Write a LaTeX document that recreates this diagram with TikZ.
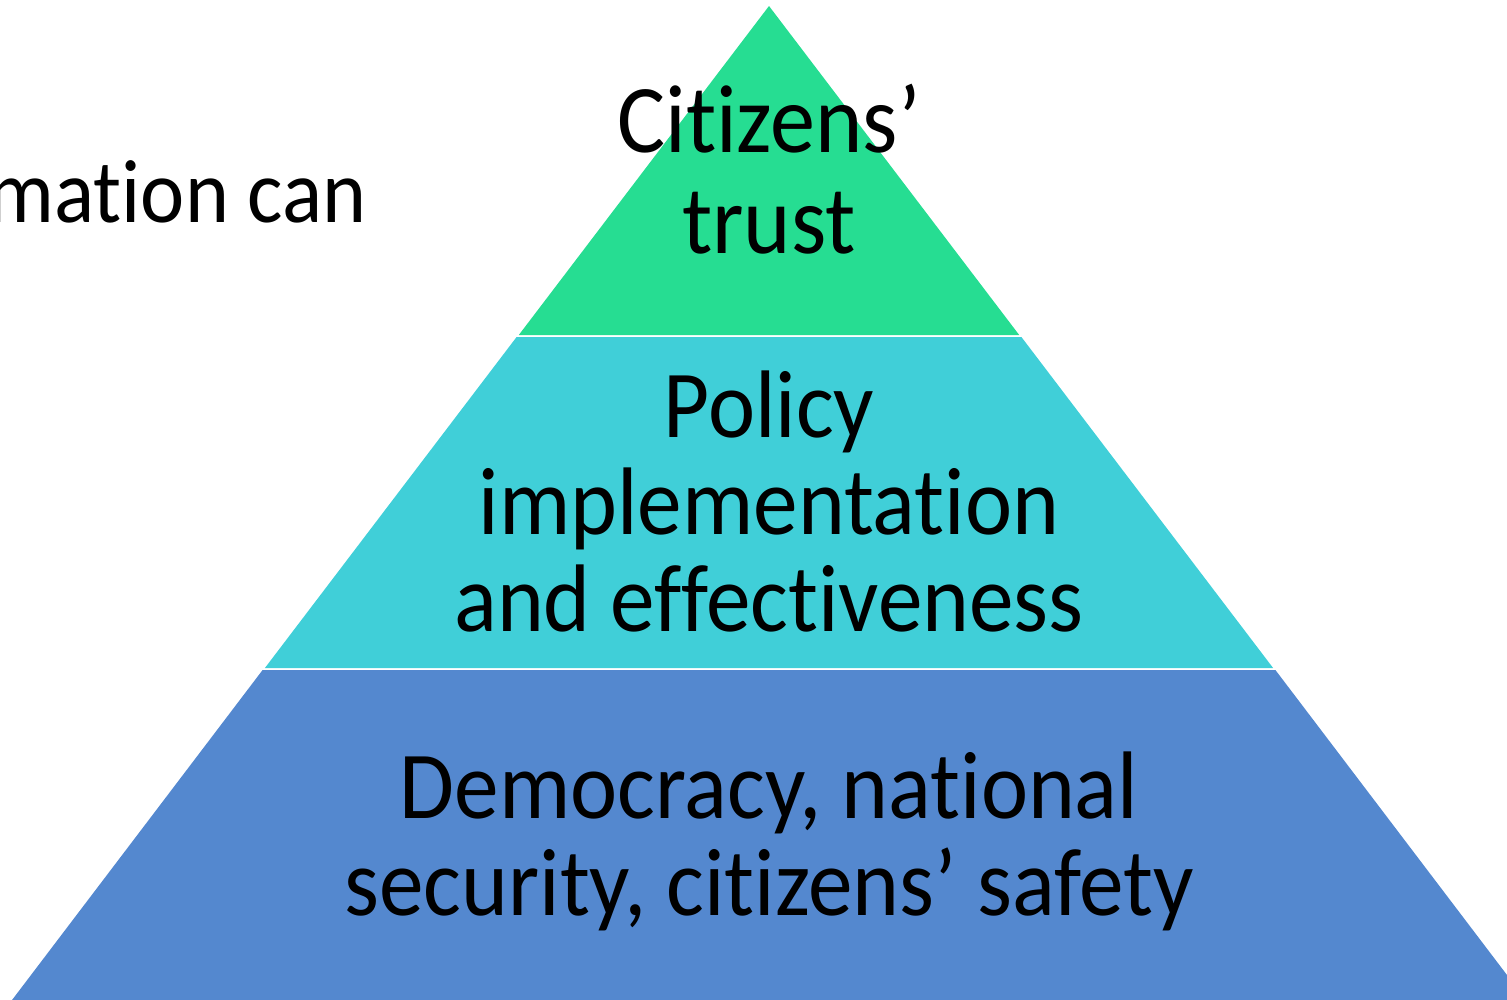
\documentclass[tikz,border=0pt]{standalone}
\usepackage{fontspec}
\setmainfont[Ligatures={NoCommon}, FakeStretch=0.93]{Carlito}
\definecolor{topgreen}{RGB}{38,221,146}
\definecolor{midcyan}{RGB}{64,207,216}
\definecolor{botblue}{RGB}{84,136,207}
\tikzset{
  lbl/.style={align=center, font=\fontsize{96}{97}\selectfont, inner sep=0pt, anchor=base},
  side/.style={font=\fontsize{90}{97}\selectfont, inner sep=0pt, anchor=base east}
}
\begin{document}
\begin{tikzpicture}[x=1pt,y=-1pt]
\useasboundingbox (0,0) rectangle (1507,999);
\clip (0,0) rectangle (1507,999);
% layers
\fill[topgreen] (769,6) -- (1019.2,335) -- (518.8,335) -- cycle;
\fill[midcyan] (516.6,337) -- (1021.4,337) -- (1273.1,668) -- (264.9,668) -- cycle;
\fill[botblue] (262.6,670) -- (1275.4,670) -- (1529,1004) -- (9,1004) -- cycle;
% labels (anchor base = baseline of last line)
\node[lbl, font=\fontsize{97}{101}\selectfont] (top) at (769,253) {Citizens’\\trust};
\node[lbl] (mid) at (769,631) {Policy\\implementation\\and effectiveness};
\node[lbl] (bot) at (769,915) {Democracy, national\\security, citizens’ safety};
\node[side] (left) at (367,222) {mation can};
\end{tikzpicture}
\end{document}
